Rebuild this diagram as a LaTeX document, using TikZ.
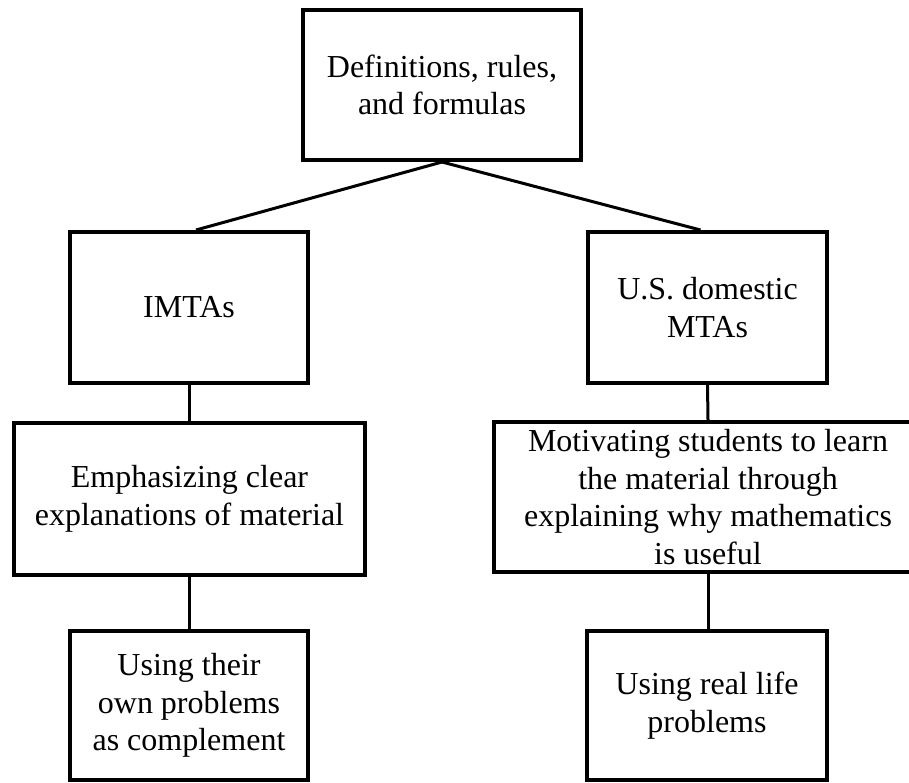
\documentclass[tikz,border=0pt]{standalone}
\usepackage{fontspec}
\setmainfont{Liberation Serif}
\begin{document}
\begin{tikzpicture}[x=1pt,y=-1pt,
  box/.style={draw=black,line width=4pt,fill=white,rectangle,inner sep=0pt,
    align=center,font=\fontsize{32}{37.5}\selectfont},
  link/.style={draw=black,line width=3pt}]
\useasboundingbox[fill=white] (0,0) rectangle (909,782);

% boxes
\node[box,minimum width=278pt,minimum height=150pt] (top) at (442,85)
  {Definitions, rules,\\and formulas};
\node[box,minimum width=238pt,minimum height=151pt] (imtas) at (189,307.5)
  {IMTAs};
\node[box,minimum width=239pt,minimum height=151pt] (usmtas) at (707.5,307.5)
  {U.S. domestic\\MTAs};
\node[box,minimum width=351pt,minimum height=152pt] (emph) at (189.5,499)
  {Emphasizing clear\\explanations of material};
\node[box,minimum width=428pt,minimum height=150pt] (motiv) at (708,497)
  {Motivating students to learn\\the material through\\explaining why mathematics\\is useful};
\node[box,minimum width=238pt,minimum height=149pt] (ownprob) at (189,705.5)
  {Using their\\own problems\\as complement};
\node[box,minimum width=240pt,minimum height=149pt] (realprob) at (707,705.5)
  {Using real life\\problems};

% connectors
\draw[link] (top.south) -- ([xshift=7pt]imtas.north);
\draw[link] (top.south) -- ([xshift=-7pt]usmtas.north);
\draw[link] (imtas.south) -- (emph.north -| imtas.south);
\draw[link] (usmtas.south) -- (motiv.north);
\draw[link] (emph.south -| ownprob.north) -- (ownprob.north);
\draw[link] (motiv.south) -- (motiv.south |- realprob.north);
\end{tikzpicture}
\end{document}
